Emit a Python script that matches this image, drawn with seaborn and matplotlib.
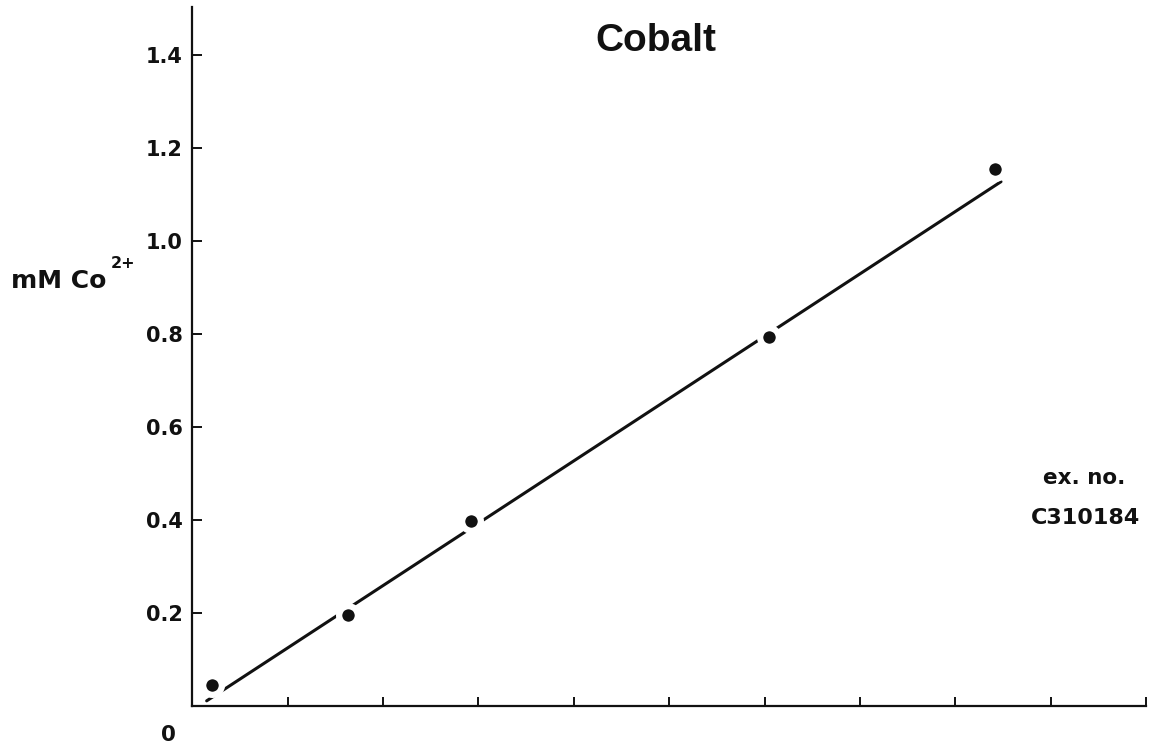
import numpy as np
import pandas as pd
import matplotlib
matplotlib.use("Agg")
import matplotlib.pyplot as plt
import seaborn as sns

# Measured cobalt standards
sample_pos = [0.21, 1.63, 2.92, 6.05, 8.42]
co_conc = [0.045, 0.196, 0.398, 0.794, 1.155]

# Calibration line drawn through the standards
fit_pos = [0.15, 8.48]
fit_conc = [0.012, 1.128]

y_ticks = [0.2, 0.4, 0.6, 0.8, 1.0, 1.2, 1.4]
y_tick_labels = ["0.2", "0.4", "0.6", "0.8", "1.0", "1.2", "1.4"]
x_ticks = [1, 2, 3, 4, 5, 6, 7, 8, 9, 10]

sns.set_theme(style="white")
plt.rcParams["font.family"] = ["DejaVu Sans"]

ink = "#111111"
W, H = 1156, 752

fig = plt.figure(figsize=(W / 100, H / 100), dpi=100)
ax = fig.add_axes([0.1664, 0.0606, 0.9913 - 0.1664, 0.991 - 0.0606])


def fig_xy(px, py):
    """Pixel position (from top-left) to figure fraction."""
    return px / W, 1 - py / H


points = pd.DataFrame({"pos": sample_pos, "conc": co_conc})
fit = pd.DataFrame({"pos": fit_pos, "conc": fit_conc})

sns.lineplot(data=fit, x="pos", y="conc", ax=ax, color=ink, linewidth=2.2,
             zorder=2)
sns.scatterplot(data=points, x="pos", y="conc", ax=ax, color=ink, s=13.5 ** 2,
                edgecolor="white", linewidth=4.5, zorder=3)

ax.set_xlim(0, 10)
ax.set_ylim(0, 1.504)

for side in ["top", "right"]:
    ax.spines[side].set_visible(False)
for side in ["left", "bottom"]:
    ax.spines[side].set_color(ink)
    ax.spines[side].set_linewidth(1.6)

ax.set_yticks(y_ticks)
ax.set_yticklabels(y_tick_labels, fontweight="bold")
ax.set_xticks(x_ticks)
ax.set_xticklabels([])
ax.tick_params(axis="y", direction="in", length=7, width=1.4, color=ink,
               labelsize=15, labelcolor=ink, pad=7, left=True)
ax.tick_params(axis="x", direction="in", length=6.5, width=1.4, color=ink,
               bottom=True)
ax.set_xlabel("")
ax.set_ylabel("")

# Title
fig.text(*fig_xy(656, 51), "Cobalt", ha="center", va="baseline",
         fontsize=28, fontweight="bold", family="Liberation Sans", color=ink)

# Axis label with superscript charge
fig.text(*fig_xy(11, 288), "mM Co", ha="left", va="baseline",
         fontsize=18, fontweight="bold", color=ink)
fig.text(*fig_xy(111, 268), "2+", ha="left", va="baseline",
         fontsize=11.5, fontweight="bold", color=ink)

# Experiment number
fig.text(*fig_xy(1084, 484), "ex. no.", ha="center", va="baseline",
         fontsize=15.5, fontweight="bold", color=ink)
fig.text(*fig_xy(1085, 524), "C310184", ha="center", va="baseline",
         fontsize=16, fontweight="bold", color=ink)

# Origin
ax.annotate("0", xy=(0, 0), xytext=(-24, -29), textcoords="offset pixels",
            ha="center", va="center", fontsize=15.5, fontweight="bold",
            color=ink)

fig.savefig("out.png", dpi=100, facecolor="white")
